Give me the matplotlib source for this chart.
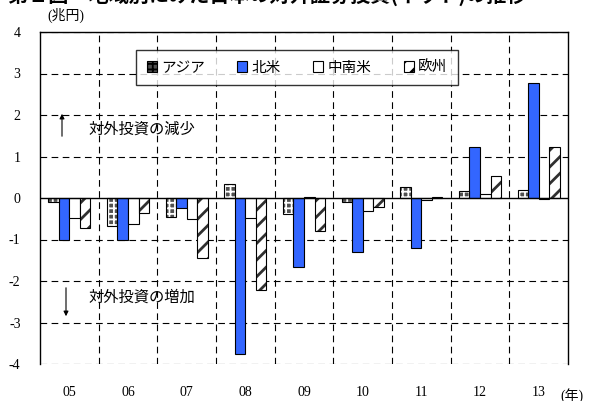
import matplotlib
matplotlib.use("Agg")
import matplotlib.pyplot as plt
import numpy as np

plt.rcParams['font.family'] = ['Noto Sans CJK JP', 'DejaVu Sans']
plt.rcParams['hatch.linewidth'] = 2.0

years = ["05", "06", "07", "08", "09", "10", "11", "12", "13"]
asia = [-0.09, -0.67, -0.46, 0.34, -0.38, -0.10, 0.27, 0.16, 0.20]
north_america = [-1.00, -1.02, -0.24, -3.76, -1.67, -1.29, -1.20, 1.24, 2.77]
latin_america = [-0.47, -0.62, -0.50, -0.49, 0.03, -0.31, -0.05, 0.09, -0.02]
europe = [-0.73, -0.37, -1.45, -2.22, -0.79, -0.21, 0.03, 0.54, 1.22]
series_names = ["アジア", "北米", "中南米", "欧州"]

fig = plt.figure(figsize=(5.92, 4.01), dpi=100)
ax = fig.add_axes([40/592, 1-364/401, 528/592, 332/401])

x = np.arange(len(years))
w = 0.18
offs = [-1.5*w, -0.5*w, 0.5*w, 1.5*w]


def thin_hatch(patches, lw):
    for p in patches:
        try:
            p.set_hatch_linewidth(lw)
        except Exception:
            pass


# Asia: checkered
asia_bars = ax.bar(x+offs[0], asia, w, facecolor='#505050', edgecolor='white', hatch='+++', linewidth=0, zorder=3)
thin_hatch(asia_bars, 1.3)
ax.bar(x+offs[0], asia, w, facecolor='none', edgecolor='black', linewidth=0.8, zorder=4)
ax.bar(x+offs[1], north_america, w, facecolor='#3366FF', edgecolor='black', linewidth=0.8, zorder=3)
ax.bar(x+offs[2], latin_america, w, facecolor='white', edgecolor='black', linewidth=0.8, zorder=3)
ax.bar(x+offs[3], europe, w, facecolor='white', edgecolor='#303030', hatch='//', linewidth=0, zorder=3)
ax.bar(x+offs[3], europe, w, facecolor='none', edgecolor='black', linewidth=0.8, zorder=4)

ax.set_xlim(-0.5, len(years)-0.5)
ax.set_ylim(-4, 4)
ax.set_yticks(range(-4, 5))
ax.set_yticklabels([str(v) for v in range(-4, 5)], family='Liberation Serif', fontsize=10)
ax.set_xticks(x)
ax.set_xticklabels(years, family='Liberation Serif', fontsize=10)
ax.tick_params(axis='y', length=0, pad=14)
ax.tick_params(axis='x', length=0, pad=16)

for v in range(-4, 5):
    if v == 0:
        continue
    ax.axhline(v, color='black', lw=0.8, ls=(0, (6, 4)), zorder=1)
for b in np.arange(0.5, len(years)-1, 1.0):
    ax.axvline(b, color='black', lw=0.8, ls=(0, (6, 4)), zorder=1)
ax.axhline(0, color='black', lw=1.0, zorder=5)

for s in ['top', 'right', 'left']:
    ax.spines[s].set_linewidth(1.0)
ax.spines['bottom'].set_visible(False)

# legend
from matplotlib.patches import Patch
handles = [
    Patch(facecolor='#505050', edgecolor='white', hatch='+++', linewidth=0.8),
    Patch(facecolor='#3366FF', edgecolor='black', linewidth=0.8),
    Patch(facecolor='white', edgecolor='black', linewidth=0.8),
    Patch(facecolor='white', edgecolor='#303030', hatch='//', linewidth=0.8),
]
thin_hatch(handles[:1], 1.3)
leg = ax.legend(handles, series_names, ncol=4, loc='upper left',
                bbox_to_anchor=((129-40)/528, (364-43)/332), fontsize=10.5,
                frameon=True, fancybox=False, edgecolor='black',
                handlelength=0.7, handleheight=0.7, handletextpad=0.3,
                columnspacing=2.2, borderpad=0.7)
leg.get_frame().set_linewidth(1.0)
leg.set_zorder(6)
thin_hatch(leg.legend_handles[:1], 1.3)
for h in leg.legend_handles:
    h.set_edgecolor('black')

# annotations
def px2data(px, py):
    return ax.transData.inverted().transform(fig.transFigure.transform((px/592, 1-py/401)))

ax.annotate('', xy=px2data(62, 111), xytext=px2data(62, 139),
            arrowprops=dict(arrowstyle='-|>', color='black', lw=0.8, mutation_scale=7))
ax.annotate('', xy=px2data(66, 319), xytext=px2data(66, 285),
            arrowprops=dict(arrowstyle='-|>', color='black', lw=0.8, mutation_scale=7))
fig.text(88/592, 1-129/401, '対外投資の減少', fontsize=11, va='center', ha='left')
fig.text(88/592, 1-297/401, '対外投資の増加', fontsize=11, va='center', ha='left')

fig.text(47/592, 1-15/401, '(兆円)', fontsize=10, va='center', ha='left', family=['Liberation Serif', 'Noto Sans CJK JP'])
fig.text(560/592, 1-396/401, '(年)', fontsize=10, va='center', ha='left', family=['Liberation Serif', 'Noto Sans CJK JP'])

fig.text(8/592, 1+5/401, '第１図　地域別にみた日本の対外証券投資(ネット)の推移', fontsize=14.5,
         fontweight='bold', va='center', ha='left')

fig.savefig('out.png', dpi=100)
